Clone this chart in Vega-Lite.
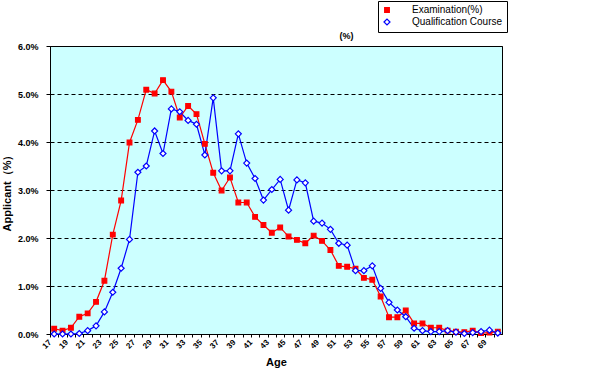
{
  "$schema": "https://vega.github.io/schema/vega-lite/v6.json",
  "width": 452,
  "height": 288,
  "autosize": "none",
  "padding": {"left": 50, "top": 46, "right": 98, "bottom": 43},
  "background": "#FFFFFF",
  "title": {"text": "(%)", "anchor": "start", "dx": 338, "dy": 40, "offset": 0, "fontSize": 9, "font": "Liberation Sans", "fontWeight": "bold", "color": "#000000"},
  "config": {
    "view": {"fill": "#CCFFFF", "stroke": "#000000", "strokeWidth": 1},
    "font": "Liberation Sans",
    "legend": {"strokeColor": "#000000", "fillColor": "#FFFFFF"}
  },
  "data": {"values": [
    {"age":17,"series":"Examination(%)","pct":0.11},{"age":18,"series":"Examination(%)","pct":0.07},{"age":19,"series":"Examination(%)","pct":0.13},{"age":20,"series":"Examination(%)","pct":0.36},{"age":21,"series":"Examination(%)","pct":0.43},{"age":22,"series":"Examination(%)","pct":0.67},{"age":23,"series":"Examination(%)","pct":1.11},{"age":24,"series":"Examination(%)","pct":2.07},{"age":25,"series":"Examination(%)","pct":2.78},{"age":26,"series":"Examination(%)","pct":3.99},{"age":27,"series":"Examination(%)","pct":4.46},{"age":28,"series":"Examination(%)","pct":5.09},{"age":29,"series":"Examination(%)","pct":5.01},{"age":30,"series":"Examination(%)","pct":5.29},{"age":31,"series":"Examination(%)","pct":5.05},{"age":32,"series":"Examination(%)","pct":4.51},{"age":33,"series":"Examination(%)","pct":4.75},{"age":34,"series":"Examination(%)","pct":4.58},{"age":35,"series":"Examination(%)","pct":3.96},{"age":36,"series":"Examination(%)","pct":3.36},{"age":37,"series":"Examination(%)","pct":2.99},{"age":38,"series":"Examination(%)","pct":3.26},{"age":39,"series":"Examination(%)","pct":2.74},{"age":40,"series":"Examination(%)","pct":2.74},{"age":41,"series":"Examination(%)","pct":2.44},{"age":42,"series":"Examination(%)","pct":2.27},{"age":43,"series":"Examination(%)","pct":2.11},{"age":44,"series":"Examination(%)","pct":2.22},{"age":45,"series":"Examination(%)","pct":2.03},{"age":46,"series":"Examination(%)","pct":1.96},{"age":47,"series":"Examination(%)","pct":1.89},{"age":48,"series":"Examination(%)","pct":2.05},{"age":49,"series":"Examination(%)","pct":1.94},{"age":50,"series":"Examination(%)","pct":1.75},{"age":51,"series":"Examination(%)","pct":1.42},{"age":52,"series":"Examination(%)","pct":1.40},{"age":53,"series":"Examination(%)","pct":1.36},{"age":54,"series":"Examination(%)","pct":1.17},{"age":55,"series":"Examination(%)","pct":1.13},{"age":56,"series":"Examination(%)","pct":0.78},{"age":57,"series":"Examination(%)","pct":0.35},{"age":58,"series":"Examination(%)","pct":0.35},{"age":59,"series":"Examination(%)","pct":0.49},{"age":60,"series":"Examination(%)","pct":0.22},{"age":61,"series":"Examination(%)","pct":0.22},{"age":62,"series":"Examination(%)","pct":0.13},{"age":63,"series":"Examination(%)","pct":0.13},{"age":64,"series":"Examination(%)","pct":0.07},{"age":65,"series":"Examination(%)","pct":0.05},{"age":66,"series":"Examination(%)","pct":0.04},{"age":67,"series":"Examination(%)","pct":0.07},{"age":68,"series":"Examination(%)","pct":0.02},{"age":69,"series":"Examination(%)","pct":0.03},{"age":70,"series":"Examination(%)","pct":0.05},
    {"age":17,"series":"Qualification Course","pct":0.0},{"age":18,"series":"Qualification Course","pct":0.0},{"age":19,"series":"Qualification Course","pct":0.0},{"age":20,"series":"Qualification Course","pct":0.01},{"age":21,"series":"Qualification Course","pct":0.07},{"age":22,"series":"Qualification Course","pct":0.17},{"age":23,"series":"Qualification Course","pct":0.46},{"age":24,"series":"Qualification Course","pct":0.87},{"age":25,"series":"Qualification Course","pct":1.37},{"age":26,"series":"Qualification Course","pct":1.97},{"age":27,"series":"Qualification Course","pct":3.37},{"age":28,"series":"Qualification Course","pct":3.50},{"age":29,"series":"Qualification Course","pct":4.23},{"age":30,"series":"Qualification Course","pct":3.76},{"age":31,"series":"Qualification Course","pct":4.69},{"age":32,"series":"Qualification Course","pct":4.63},{"age":33,"series":"Qualification Course","pct":4.45},{"age":34,"series":"Qualification Course","pct":4.37},{"age":35,"series":"Qualification Course","pct":3.73},{"age":36,"series":"Qualification Course","pct":4.92},{"age":37,"series":"Qualification Course","pct":3.40},{"age":38,"series":"Qualification Course","pct":3.40},{"age":39,"series":"Qualification Course","pct":4.17},{"age":40,"series":"Qualification Course","pct":3.56},{"age":41,"series":"Qualification Course","pct":3.24},{"age":42,"series":"Qualification Course","pct":2.79},{"age":43,"series":"Qualification Course","pct":3.01},{"age":44,"series":"Qualification Course","pct":3.22},{"age":45,"series":"Qualification Course","pct":2.58},{"age":46,"series":"Qualification Course","pct":3.21},{"age":47,"series":"Qualification Course","pct":3.15},{"age":48,"series":"Qualification Course","pct":2.35},{"age":49,"series":"Qualification Course","pct":2.31},{"age":50,"series":"Qualification Course","pct":2.18},{"age":51,"series":"Qualification Course","pct":1.89},{"age":52,"series":"Qualification Course","pct":1.85},{"age":53,"series":"Qualification Course","pct":1.32},{"age":54,"series":"Qualification Course","pct":1.32},{"age":55,"series":"Qualification Course","pct":1.42},{"age":56,"series":"Qualification Course","pct":0.95},{"age":57,"series":"Qualification Course","pct":0.66},{"age":58,"series":"Qualification Course","pct":0.50},{"age":59,"series":"Qualification Course","pct":0.36},{"age":60,"series":"Qualification Course","pct":0.12},{"age":61,"series":"Qualification Course","pct":0.07},{"age":62,"series":"Qualification Course","pct":0.05},{"age":63,"series":"Qualification Course","pct":0.05},{"age":64,"series":"Qualification Course","pct":0.07},{"age":65,"series":"Qualification Course","pct":0.04},{"age":66,"series":"Qualification Course","pct":0.01},{"age":67,"series":"Qualification Course","pct":0.03},{"age":68,"series":"Qualification Course","pct":0.05},{"age":69,"series":"Qualification Course","pct":0.08},{"age":70,"series":"Qualification Course","pct":0.02}
  ]},
  "encoding": {
    "x": {
      "field": "age", "type": "quantitative",
      "scale": {"domain": [16.5, 70.5], "nice": false, "zero": false},
      "axis": {
        "title": "Age", "titleFontSize": 11, "titleFontWeight": "bold", "titleColor": "#000000", "titlePadding": 6,
        "values": [17,18,19,20,21,22,23,24,25,26,27,28,29,30,31,32,33,34,35,36,37,38,39,40,41,42,43,44,45,46,47,48,49,50,51,52,53,54,55,56,57,58,59,60,61,62,63,64,65,66,67,68,69,70],
        "labelExpr": "datum.value % 2 == 1 ? datum.label : ''",
        "labelAngle": -45, "labelAlign": "right", "labelBaseline": "middle",
        "labelFontSize": 8, "labelFontWeight": "bold", "labelColor": "#000000", "labelPadding": 4,
        "tickOffset": -4.2, "tickSize": 3, "tickColor": "#000000",
        "domainColor": "#000000", "grid": false, "labelOverlap": false, "labelFlush": false
      }
    },
    "y": {
      "field": "pct", "type": "quantitative",
      "scale": {"domain": [0, 6], "nice": false},
      "axis": {
        "title": "Applicant（%）", "titleFontSize": 11, "titleFontWeight": "bold", "titleColor": "#000000", "titlePadding": 5,
        "values": [0,1,2,3,4,5,6],
        "labelExpr": "format(datum.value, '.1f') + '%'",
        "labelFontSize": 9, "labelFontWeight": "bold", "labelColor": "#000000", "labelPadding": 8,
        "tickSize": 4, "tickColor": "#000000", "domainColor": "#000000",
        "grid": true, "gridColor": "#000000", "gridDash": [4, 3], "gridWidth": 1
      }
    }
  },
  "layer": [
    {
      "mark": {"type": "line", "strokeWidth": 1.2},
      "encoding": {
        "color": {
          "field": "series", "type": "nominal",
          "scale": {"domain": ["Examination(%)", "Qualification Course"], "range": ["#FF0000", "#0000FF"]},
          "legend": {
            "title": null, "orient": "none", "legendX": 328, "legendY": -45,
            "padding": 4, "strokeColor": "#000000", "fillColor": "#FFFFFF",
            "symbolSize": 40, "symbolStrokeWidth": 1.2, "symbolOpacity": 1,
            "labelFontSize": 10, "labelColor": "#000000", "labelOffset": 20, "rowPadding": 1
          }
        }
      }
    },
    {
      "mark": {"type": "point", "filled": false, "strokeWidth": 1.2, "opacity": 1},
      "encoding": {
        "color": {
          "field": "series", "type": "nominal",
          "legend": {
            "title": null, "orient": "none", "legendX": 328, "legendY": -45,
            "padding": 4, "strokeColor": "#000000", "fillColor": "#FFFFFF",
            "symbolSize": 40, "symbolStrokeWidth": 1.2, "symbolOpacity": 1,
            "labelFontSize": 10, "labelColor": "#000000", "labelOffset": 20, "rowPadding": 1
          }
        },
        "shape": {
          "field": "series", "type": "nominal",
          "scale": {"domain": ["Examination(%)", "Qualification Course"], "range": ["square", "diamond"]},
          "legend": {
            "title": null, "orient": "none", "legendX": 328, "legendY": -45,
            "padding": 4, "strokeColor": "#000000", "fillColor": "#FFFFFF",
            "symbolSize": 40, "symbolStrokeWidth": 1.2, "symbolOpacity": 1,
            "labelFontSize": 10, "labelColor": "#000000", "labelOffset": 20, "rowPadding": 1
          }
        },
        "fill": {
          "field": "series", "type": "nominal",
          "scale": {"domain": ["Examination(%)", "Qualification Course"], "range": ["#FF0000", "#FFFFFF"]},
          "legend": {
            "title": null, "orient": "none", "legendX": 328, "legendY": -45,
            "padding": 4, "strokeColor": "#000000", "fillColor": "#FFFFFF",
            "symbolSize": 40, "symbolStrokeWidth": 1.2, "symbolOpacity": 1,
            "labelFontSize": 10, "labelColor": "#000000", "labelOffset": 20, "rowPadding": 1
          }
        },
        "size": {
          "field": "series", "type": "nominal",
          "scale": {"domain": ["Examination(%)", "Qualification Course"], "range": [22, 36]},
          "legend": null
        }
      }
    }
  ]
}
